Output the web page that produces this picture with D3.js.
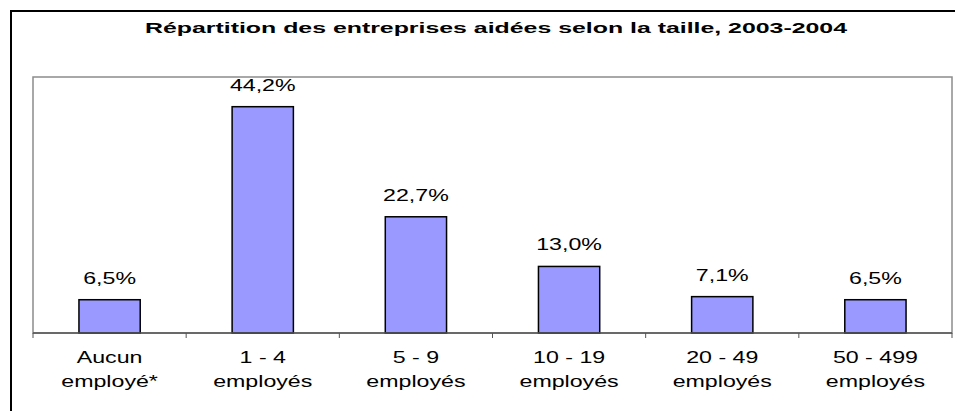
<!DOCTYPE html>
<html>
<head>
<meta charset="utf-8">
<script src="https://cdn.jsdelivr.net/npm/d3@7"></script>
<style>
  body { margin: 0; background: #fff; }
  text { font-family: "Liberation Sans", Arial, sans-serif; fill: #000; }
</style>
</head>
<body>
<div id="main"></div>
<script>

// chart data
var categories = ["Aucun|employé*", "1 - 4|employés", "5 - 9|employés",
                  "10 - 19|employés", "20 - 49|employés", "50 - 499|employés"];
var values = [6.5, 44.2, 22.7, 13.0, 7.1, 6.5];
var valueLabels = ["6,5%", "44,2%", "22,7%", "13,0%", "7,1%", "6,5%"];
var title = "Répartition des entreprises aidées selon la taille, 2003-2004";

var w = 955;
var h = 411;
// plot area (note: "top" is taken by window.top, so prefixed names)
var pLeft = 33, pRight = 952, pTop = 77, pBottom = 333;
var sx = 1.45; // text in the source is stretched wide

var svg = d3.select("#main").append("svg")
    .attr("width", w)
    .attr("height", h);

// outer frame (runs off the right and bottom edge)
svg.append("rect")
    .attr("x", 11).attr("y", 11)
    .attr("width", 980).attr("height", 440)
    .attr("fill", "none")
    .attr("stroke", "#000")
    .attr("stroke-width", 2);

svg.append("text")
    .attr("x", 145).attr("y", 33)
    .attr("textLength", 702)
    .attr("lengthAdjust", "spacingAndGlyphs")
    .style("font-size", "15px")
    .style("font-weight", "bold")
    .text(title);

var x = d3.scaleBand()
    .domain(d3.range(categories.length))
    .range([pLeft, pRight])
    .paddingInner(0.6)
    .paddingOuter(0.3);

var y = d3.scaleLinear()
    .domain([0, 50])
    .range([pBottom, pTop]);

// plot area border
svg.append("rect")
    .attr("x", pLeft).attr("y", pTop)
    .attr("width", pRight - pLeft).attr("height", pBottom - pTop)
    .attr("fill", "none")
    .attr("stroke", "#8c8c8c")
    .attr("stroke-width", 1.5);

svg.selectAll("rect.bar")
    .data(values)
    .enter()
    .append("rect")
    .attr("class", "bar")
    .attr("x", function(d, i) { return x(i); })
    .attr("y", function(d) { return y(d); })
    .attr("width", x.bandwidth())
    .attr("height", function(d) { return y(0) - y(d); })
    .attr("fill", "#9999ff")
    .attr("stroke", "#000")
    .attr("stroke-width", 1.5);

// value labels
svg.selectAll("g.val")
    .data(values)
    .enter()
    .append("g")
    .attr("class", "val")
    .attr("transform", function(d, i) {
      return "translate(" + (x(i) + x.bandwidth() / 2) + "," + (y(d) - 16) + ") scale(" + sx + ",1)";
    })
    .append("text")
    .attr("text-anchor", "middle")
    .style("font-size", "16px")
    .text(function(d, i) { return valueLabels[i]; });

// category axis: line + ticks at band boundaries
var step = (pRight - pLeft) / categories.length;
svg.append("line")
    .attr("x1", pLeft).attr("x2", pRight)
    .attr("y1", pBottom).attr("y2", pBottom)
    .attr("stroke", "#555")
    .attr("stroke-width", 1.5);

svg.selectAll("line.tick")
    .data(d3.range(categories.length + 1))
    .enter()
    .append("line")
    .attr("class", "tick")
    .attr("x1", function(d) { return pLeft + d * step; })
    .attr("x2", function(d) { return pLeft + d * step; })
    .attr("y1", pBottom).attr("y2", pBottom + 5)
    .attr("stroke", "#555")
    .attr("stroke-width", 1);

var cat = svg.selectAll("g.cat")
    .data(categories)
    .enter()
    .append("g")
    .attr("class", "cat");

[0, 1].forEach(function(line) {
  cat.append("g")
      .attr("transform", function(d, i) {
        return "translate(" + (x(i) + x.bandwidth() / 2) + "," + (363 + line * 24) + ") scale(" + sx + ",1)";
      })
      .append("text")
      .attr("text-anchor", "middle")
      .style("font-size", "16px")
      .text(function(d) { return d.split("|")[line]; });
});

</script>
</body>
</html>
